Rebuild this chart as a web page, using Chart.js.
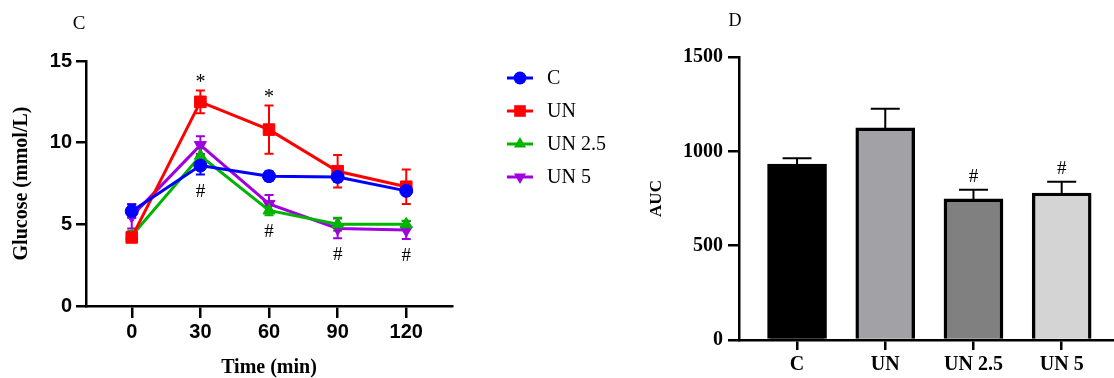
<!DOCTYPE html>
<html><head><meta charset="utf-8">
<script src="https://cdn.jsdelivr.net/npm/chart.js@4.4.1/dist/chart.umd.min.js"></script>
<style>
html,body{margin:0;padding:0;background:#fff;width:1114px;height:378px;overflow:hidden}
canvas{position:absolute;top:0}
#c1{left:0}
#c2{left:620px}
</style></head><body>
<canvas id="c1" width="620" height="378"></canvas>
<canvas id="c2" width="494" height="378"></canvas>
<script>
// ---------- Data: panel C (glucose tolerance) ----------
const times = [0, 30, 60, 90, 120];
const seriesNames = ['C', 'UN', 'UN 2.5', 'UN 5'];
const cMean   = [5.8, 8.6, 7.95, 7.9, 7.05];
const cErr    = [0.4, 0.55, 0.3, 0.3, 0.2];
const unMean  = [4.2, 12.5, 10.8, 8.25, 7.3];
const unErr   = [0.3, 0.7, 1.48, 1.0, 1.05];
const un25Mean = [4.3, 9.2, 5.85, 5.0, 5.0];
const un25Err  = [0.3, 0.75, 0.3, 0.4, 0.22];
const un5Mean  = [5.5, 9.85, 6.25, 4.75, 4.65];
const un5Err   = [0.75, 0.55, 0.55, 0.6, 0.55];
const glucoseTicks = [0, 5, 10, 15];
const starTimes = [30, 60];
const hashTimes = [30, 60, 90, 120];

// ---------- Data: panel D (AUC) ----------
const aucCategories = ['C', 'UN', 'UN 2.5', 'UN 5'];
const aucMean = [933, 1124, 748, 779];
const aucErr  = [30, 102, 49, 60];
const aucMarks = ['', '', '#', '#'];
const aucTicks = [0, 500, 1000, 1500];

const SANS = '"Liberation Sans", Arial, sans-serif';
const SERIF = '"Liberation Serif", "Times New Roman", serif';

function drawMarker(ctx, style, rot, x, y, r) {
  ctx.beginPath();
  if (style === 'circle') {
    ctx.arc(x, y, r, 0, Math.PI * 2);
  } else if (style === 'rect') {
    const s = r * Math.SQRT1_2;
    ctx.rect(x - s, y - s, 2 * s, 2 * s);
  } else {
    const sgn = rot === 180 ? -1 : 1;
    for (let k = 0; k < 3; k++) {
      const a = k * 2 * Math.PI / 3;
      const px = x + Math.sin(a) * r, py = y - sgn * Math.cos(a) * r;
      if (k === 0) ctx.moveTo(px, py); else ctx.lineTo(px, py);
    }
    ctx.closePath();
  }
  ctx.fill();
}

const colors = ['#0000ff', '#ff0000', '#00b400', '#a000e0'];
const means = [cMean, unMean, un25Mean, un5Mean];
const errs = [cErr, unErr, un25Err, un5Err];
const styles = [['circle', 0, 6.5], ['rect', 0, 8.2], ['triangle', 0, 7], ['triangle', 180, 7]];

const lineDatasets = seriesNames.map((name, i) => ({
  label: name,
  data: times.map((t, j) => ({x: t, y: means[i][j]})),
  errors: errs[i],
  borderColor: colors[i],
  backgroundColor: colors[i],
  pointBackgroundColor: colors[i],
  pointBorderColor: colors[i],
  pointBorderWidth: 1,
  pointStyle: styles[i][0],
  pointRotation: styles[i][1],
  pointRadius: styles[i][2],
  borderWidth: 3,
  tension: 0
}));

const lineErrPlugin = {
  id: 'lineErr',
  beforeDatasetsDraw(chart) {
    const ctx = chart.ctx, xs = chart.scales.x, ys = chart.scales.y;
    ctx.save();
    ctx.lineWidth = 2;
    for (let i = chart.data.datasets.length - 1; i >= 0; i--) {
      const ds = chart.data.datasets[i];
      ctx.strokeStyle = ds.borderColor;
      ds.data.forEach((p, j) => {
        const e = ds.errors[j];
        const x = xs.getPixelForValue(p.x);
        const yt = ys.getPixelForValue(p.y + e), yb = ys.getPixelForValue(p.y - e);
        ctx.beginPath();
        ctx.moveTo(x, yt); ctx.lineTo(x, yb);
        ctx.moveTo(x - 4.5, yt); ctx.lineTo(x + 4.5, yt);
        ctx.moveTo(x - 4.5, yb); ctx.lineTo(x + 4.5, yb);
        ctx.stroke();
      });
    }
    ctx.restore();
  },
  afterDatasetsDraw(chart) {
    const ctx = chart.ctx, xs = chart.scales.x, ys = chart.scales.y;
    ctx.save();
    ctx.fillStyle = '#000';
    ctx.textAlign = 'center';
    ctx.textBaseline = 'alphabetic';
    ctx.font = '20px ' + SERIF;
    starTimes.forEach(t => {
      const j = times.indexOf(t);
      ctx.fillText('*', xs.getPixelForValue(t), ys.getPixelForValue(unMean[j] + unErr[j]) - 2);
    });
    ctx.font = '19px ' + SERIF;
    hashTimes.forEach(t => {
      const j = times.indexOf(t);
      let lo = Infinity;
      means.forEach((m, i) => { lo = Math.min(lo, m[j] - errs[i][j]); });
      ctx.fillText('#', xs.getPixelForValue(t), ys.getPixelForValue(lo) + 22);
    });
    // panel letter
    ctx.textAlign = 'center';
    ctx.textBaseline = 'middle';
    ctx.font = '19px ' + SERIF;
    ctx.fillText('C', 79, 24);
    // legend
    chart.data.datasets.forEach((ds, i) => {
      const y = 78 + i * 33;
      ctx.strokeStyle = ds.borderColor;
      ctx.lineWidth = 3;
      ctx.beginPath(); ctx.moveTo(507, y); ctx.lineTo(533, y); ctx.stroke();
      ctx.fillStyle = ds.borderColor;
      drawMarker(ctx, ds.pointStyle, ds.pointRotation, 520, y, ds.pointRadius);
      ctx.fillStyle = '#000';
      ctx.textAlign = 'left';
      ctx.font = '20px ' + SERIF;
      ctx.fillText(ds.label, 547, y + 1);
    });
    ctx.restore();
  }
};

new Chart(document.getElementById('c1'), {
  type: 'line',
  data: {datasets: lineDatasets},
  plugins: [lineErrPlugin],
  options: {
    responsive: false,
    animation: false,
    devicePixelRatio: 1,
    layout: {padding: {top: 61, right: 168, left: 0, bottom: 0}},
    plugins: {legend: {display: false}, tooltip: {enabled: false}},
    scales: {
      x: {
        type: 'linear', min: -20, max: 140,
        afterBuildTicks: s => { s.ticks = times.map(v => ({value: v})); },
        afterFit: s => { s.height = 72; },
        grid: {display: true, drawOnChartArea: false, drawTicks: true, tickLength: 12, color: '#000', lineWidth: 2.5},
        border: {display: true, color: '#000', width: 2.5},
        ticks: {color: '#000', font: {family: SANS, size: 20, weight: 'bold'}, padding: 2, maxRotation: 0},
        title: {display: true, text: 'Time (min)', color: '#000', font: {family: SERIF, size: 20, weight: 'bold', lineHeight: 1}, padding: {top: 0, bottom: 0}}
      },
      y: {
        min: 0, max: 15,
        afterBuildTicks: s => { s.ticks = glucoseTicks.map(v => ({value: v})); },
        afterFit: s => { s.width = 86; },
        grid: {display: true, drawOnChartArea: false, drawTicks: true, tickLength: 10, color: '#000', lineWidth: 2.5},
        border: {display: true, color: '#000', width: 2.5},
        ticks: {color: '#000', font: {family: SANS, size: 20, weight: 'bold'}, padding: 4},
        title: {display: true, text: 'Glucose (mmol/L)', color: '#000', font: {family: SERIF, size: 20, weight: 'bold', lineHeight: 1}, padding: {top: 12, bottom: 0}}
      }
    }
  }
});

// ---------- Panel D ----------
const barFill = ['#000000', '#a2a1a6', '#808080', '#d4d4d4'];

const barErrPlugin = {
  id: 'barErr',
  beforeDatasetsDraw(chart) {
    const ctx = chart.ctx, xs = chart.scales.x, ys = chart.scales.y;
    ctx.save();
    ctx.strokeStyle = '#000';
    ctx.lineWidth = 2;
    aucMean.forEach((m, j) => {
      const x = xs.getPixelForValue(j);
      const yt = ys.getPixelForValue(m + aucErr[j]), yb = ys.getPixelForValue(m);
      ctx.beginPath();
      ctx.moveTo(x, yb); ctx.lineTo(x, yt);
      ctx.moveTo(x - 14.5, yt); ctx.lineTo(x + 14.5, yt);
      ctx.stroke();
    });
    ctx.restore();
  },
  afterDatasetsDraw(chart) {
    const ctx = chart.ctx, xs = chart.scales.x, ys = chart.scales.y;
    ctx.save();
    ctx.fillStyle = '#000';
    ctx.textAlign = 'center';
    ctx.textBaseline = 'alphabetic';
    ctx.font = '19px ' + SERIF;
    aucMarks.forEach((mk, j) => {
      if (!mk) return;
      ctx.fillText(mk, xs.getPixelForValue(j), ys.getPixelForValue(aucMean[j] + aucErr[j]) - 8);
    });
    ctx.textBaseline = 'middle';
    ctx.font = '18px ' + SERIF;
    ctx.fillText('D', 115, 21);
    ctx.restore();
  }
};

new Chart(document.getElementById('c2'), {
  type: 'bar',
  data: {
    datasets: [{
      label: 'AUC',
      data: aucMean.map((v, j) => ({x: j, y: v})),
      backgroundColor: barFill,
      borderColor: '#000',
      borderWidth: 3.4,
      borderSkipped: 'start',
      barThickness: 59
    }]
  },
  plugins: [barErrPlugin],
  options: {
    responsive: false,
    animation: false,
    devicePixelRatio: 1,
    layout: {padding: {top: 57, right: 0, left: 0, bottom: 0}},
    plugins: {legend: {display: false}, tooltip: {enabled: false}},
    scales: {
      x: {
        type: 'linear', min: -0.658, max: 3.593, offset: false,
        afterBuildTicks: s => { s.ticks = aucCategories.map((c, j) => ({value: j})); },
        afterFit: s => { s.height = 38; },
        grid: {display: true, offset: false, drawOnChartArea: false, drawTicks: true, tickLength: 10, color: '#000', lineWidth: 2.5},
        border: {display: true, color: '#000', width: 2.5},
        ticks: {color: '#000', font: {family: SERIF, size: 20, weight: 'bold'}, padding: 3, maxRotation: 0,
          callback: v => aucCategories[v] ?? ''}
      },
      y: {
        min: 0, max: 1500,
        afterBuildTicks: s => { s.ticks = aucTicks.map(v => ({value: v})); },
        afterFit: s => { s.width = 119; },
        grid: {display: true, drawOnChartArea: false, drawTicks: true, tickLength: 11, color: '#000', lineWidth: 2.5},
        border: {display: true, color: '#000', width: 2.5},
        ticks: {color: '#000', font: {family: SERIF, size: 20, weight: 'bold'}, padding: 5, callback: v => String(v)},
        title: {display: true, text: 'AUC', color: '#000', font: {family: SERIF, size: 17, weight: 'bold', lineHeight: 1}, padding: {top: 28.5, bottom: 0}}
      }
    }
  }
});
</script>
</body></html>
